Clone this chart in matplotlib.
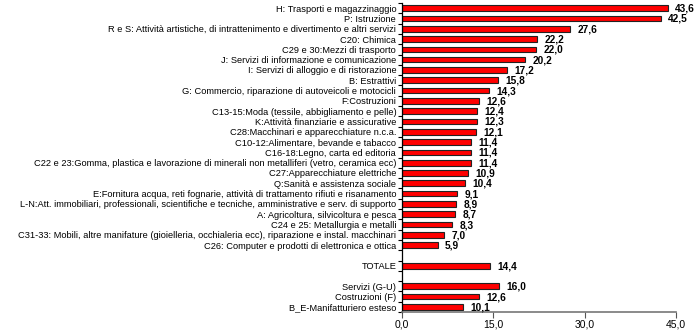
import matplotlib.pyplot as plt
from matplotlib.ticker import FixedLocator, FuncFormatter

plt.rcParams['font.family'] = ['Liberation Sans', 'DejaVu Sans']

categories = [
    "H: Trasporti e magazzinaggio",
    "P: Istruzione",
    "R e S: Attività artistiche, di intrattenimento e divertimento e altri servizi",
    "C20: Chimica",
    "C29 e 30:Mezzi di trasporto",
    "J: Servizi di informazione e comunicazione",
    "I: Servizi di alloggio e di ristorazione",
    "B: Estrattivi",
    "G: Commercio, riparazione di autoveicoli e motocicli",
    "F:Costruzioni",
    "C13-15:Moda (tessile, abbigliamento e pelle)",
    "K:Attività finanziarie e assicurative",
    "C28:Macchinari e apparecchiature n.c.a.",
    "C10-12:Alimentare, bevande e tabacco",
    "C16-18:Legno, carta ed editoria",
    "C22 e 23:Gomma, plastica e lavorazione di minerali non metalliferi (vetro, ceramica ecc)",
    "C27:Apparecchiature elettriche",
    "Q:Sanità e assistenza sociale",
    "E:Fornitura acqua, reti fognarie, attività di trattamento rifiuti e risanamento",
    "L-N:Att. immobiliari, professionali, scientifiche e tecniche, amministrative e serv. di supporto",
    "A: Agricoltura, silvicoltura e pesca",
    "C24 e 25: Metallurgia e metalli",
    "C31-33: Mobili, altre manifature (gioielleria, occhialeria ecc), riparazione e instal. macchinari",
    "C26: Computer e prodotti di elettronica e ottica",
    "",
    "TOTALE",
    "",
    "Servizi (G-U)",
    "Costruzioni (F)",
    "B_E-Manifatturiero esteso",
]
values = [43.6, 42.5, 27.6, 22.2, 22.0, 20.2, 17.2, 15.8, 14.3, 12.6, 12.4, 12.3,
          12.1, 11.4, 11.4, 11.4, 10.9, 10.4, 9.1, 8.9, 8.7, 8.3, 7.0, 5.9,
          None, 14.4, None, 16.0, 12.6, 10.1]
x_ticks = [0, 15, 30, 45]

fig = plt.figure(figsize=(7, 3.32), dpi=100)
ax = fig.add_axes([0.574, 0.06, 0.392, 0.931])

n = len(categories)
pos = [n - 1 - i for i in range(n)]
for y, v in zip(pos, values):
    if v is None:
        continue
    ax.barh(y, v, height=0.55, color='#ff0000', edgecolor='#222222', linewidth=0.8)
    ax.text(v + 1.2, y - 0.05, f"{v:.1f}".replace('.', ','), va='center', ha='left',
            fontsize=7.3, fontweight='bold')

ax.set_ylim(-0.5, n - 0.5)
ax.set_xlim(0, 45)
ax.set_yticks(pos)
ax.set_yticklabels(categories, fontsize=6.7)
ax.tick_params(axis='y', which='major', length=0, pad=4)
ax.yaxis.set_minor_locator(FixedLocator([p + 0.5 for p in range(-1, n)]))
ax.tick_params(axis='y', which='minor', length=3, width=0.8)

ax.set_xticks(x_ticks)
ax.xaxis.set_major_formatter(FuncFormatter(lambda v, p: f"{v:.1f}".replace('.', ',')))
ax.tick_params(axis='x', length=4, width=0.8, labelsize=7.5, pad=1.5, color='#555555')

for s in ['top', 'right']:
    ax.spines[s].set_visible(False)
ax.spines['left'].set_linewidth(0.9)
ax.spines['bottom'].set_color('#777777')
ax.spines['bottom'].set_linewidth(1.2)

fig.savefig('out.png', dpi=100)
